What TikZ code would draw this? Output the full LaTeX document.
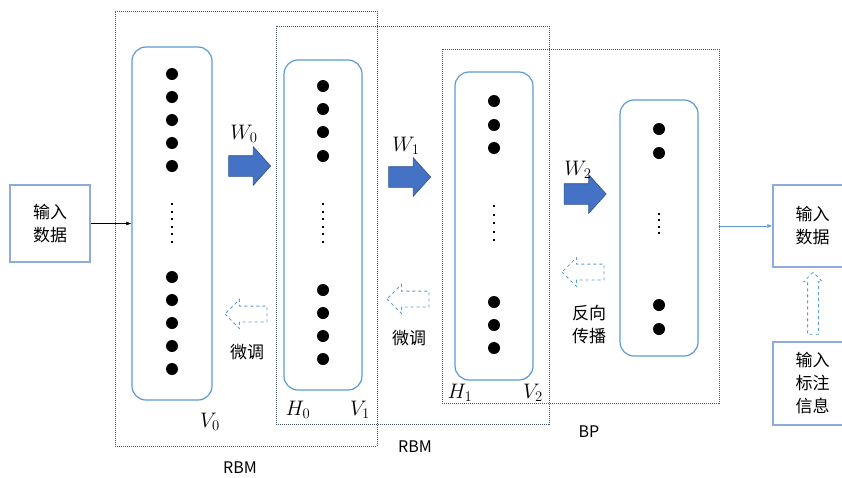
\RequirePackage{fix-cm}
\documentclass[tikz,border=0pt]{standalone}
\usepackage{fontspec}
\setmainfont{Noto Sans CJK SC}
\usetikzlibrary{arrows.meta}
\usetikzlibrary{shapes.arrows}

\definecolor{layerblue}{RGB}{91,155,213}
\definecolor{arrowblue}{RGB}{68,114,196}
\definecolor{arrowedge}{RGB}{47,82,143}
\definecolor{boxgray}{RGB}{68,84,106}
\definecolor{inblue}{RGB}{143,170,220}

\tikzset{
  layer/.style={draw=layerblue, line width=1.2pt, rounded corners=14pt, inner sep=0pt},
  rbmbox/.style={draw=boxgray, line width=0.9pt, dash pattern=on 1pt off 1pt, inner sep=0pt},
  inbox/.style={draw=inblue, line width=1.5pt, inner sep=0pt, align=center, font=\fontsize{17}{23}\selectfont},
  blockarr/.style={single arrow, draw=arrowedge, fill=arrowblue, line width=0.6pt, inner sep=10pt,
    minimum height=42pt, single arrow head extend=9pt, single arrow tip angle=96},
  backarr/.style={single arrow, draw=layerblue, fill=white, dashed, line width=0.8pt, inner sep=7.5pt,
    minimum height=42pt, single arrow head extend=6.5pt, shape border rotate=180},
  mlabel/.style={font=\fontsize{21}{24}\selectfont},
  cnlabel/.style={align=center, font=\fontsize{17}{23}\selectfont},
  boxlabel/.style={font=\fontsize{16}{19}\selectfont}
}

\begin{document}
\begin{tikzpicture}[x=1pt, y=-1pt]
\clip (0,0) rectangle (842,477);
\fill[white] (0,0) rectangle (842,477);

% dotted groups
\node[rbmbox, minimum width=262pt, minimum height=435pt] (rbm0) at (246,228.5) {};
\node[rbmbox, minimum width=273pt, minimum height=398pt] (rbm1) at (412.5,225) {};
\node[rbmbox, minimum width=277pt, minimum height=354pt] (bp) at (580.5,226) {};

% layers
\node[layer, minimum width=80pt, minimum height=353pt] (L0) at (172,223.5) {};
\node[layer, minimum width=78pt, minimum height=330pt] (L1) at (323,225) {};
\node[layer, minimum width=78pt, minimum height=308pt] (L2) at (494,226) {};
\node[layer, minimum width=78pt, minimum height=256pt] (L3) at (659,228) {};

% units
\foreach \y in {74,97,120,143,166,277,300,323,346,369} \fill (172,\y) circle (6pt);
\foreach \y in {86,109,132,156,290,313,336,359} \fill (323,\y) circle (6pt);
\foreach \y in {101,125,148,302,325,348} \fill (494,\y) circle (6pt);
\foreach \y in {129,153,305,329} \fill (659,\y) circle (6pt);
\foreach \k in {0,...,5} \fill (171,{203+7.5*\k}) rectangle +(2,2);
\foreach \k in {0,...,5} \fill (322,{203+7.5*\k}) rectangle +(2,2);
\foreach \k in {0,...,4} \fill (493,{205+8.5*\k}) rectangle +(2,2);
\foreach \k in {0,...,3} \fill (658,{213+6.3*\k}) rectangle +(2,2);

% weights
\node[blockarr] (w0arr) at (245,166) {};
\node[blockarr] (w1arr) at (405,177) {};
\node[blockarr] (w2arr) at (580.5,194) {};
\node[mlabel] (w0) at (244,134) {$W_0$};
\node[mlabel] (w1) at (406,146) {$W_1$};
\node[mlabel] (w2) at (578,170) {$W_2$};

% fine tuning
\node[backarr] (ft0) at (250,314) {};
\node[backarr] (ft1) at (412,299) {};
\node[backarr] (ft2) at (587,272) {};
\node[cnlabel] (ft0lab) at (247,352) {微调};
\node[cnlabel] (ft1lab) at (409,338) {微调};
\node[cnlabel] (ft2lab) at (589,325) {反向\\传播};

% layer names
\node[mlabel] (v0) at (210,422) {$V_0$};
\node[mlabel] (h0) at (298,410) {$H_0$};
\node[mlabel] (v1) at (360,410) {$V_1$};
\node[mlabel] (h1) at (460,393) {$H_1$};
\node[mlabel] (v2) at (533,393) {$V_2$};

% group names
\node[boxlabel] (rbm0lab) at (240,468) {RBM};
\node[boxlabel] (rbm1lab) at (415,447) {RBM};
\node[boxlabel] (bplab) at (589,432) {BP};

% inputs
\node[inbox, minimum width=80pt, minimum height=77pt] (in0) at (50,223.5) {输入\\数据};
\node[inbox, minimum width=79pt, minimum height=82pt] (in1) at (812.5,226) {输入\\数据};
\node[inbox, minimum width=79pt, minimum height=83pt] (lab) at (812.5,383.5) {输入\\标注\\信息};
\node[single arrow, draw=layerblue, dashed, line width=0.8pt, inner sep=5pt, minimum height=62pt,
  single arrow head extend=4pt, shape border rotate=90] (up) at (813,306) {};

\draw[-{Latex[length=5pt]}] (in0.east) -- (in0.east -| L0.west);
\draw[-{Latex[length=5pt]}, layerblue] (bp.east) -- (in1.west);
\end{tikzpicture}
\end{document}
